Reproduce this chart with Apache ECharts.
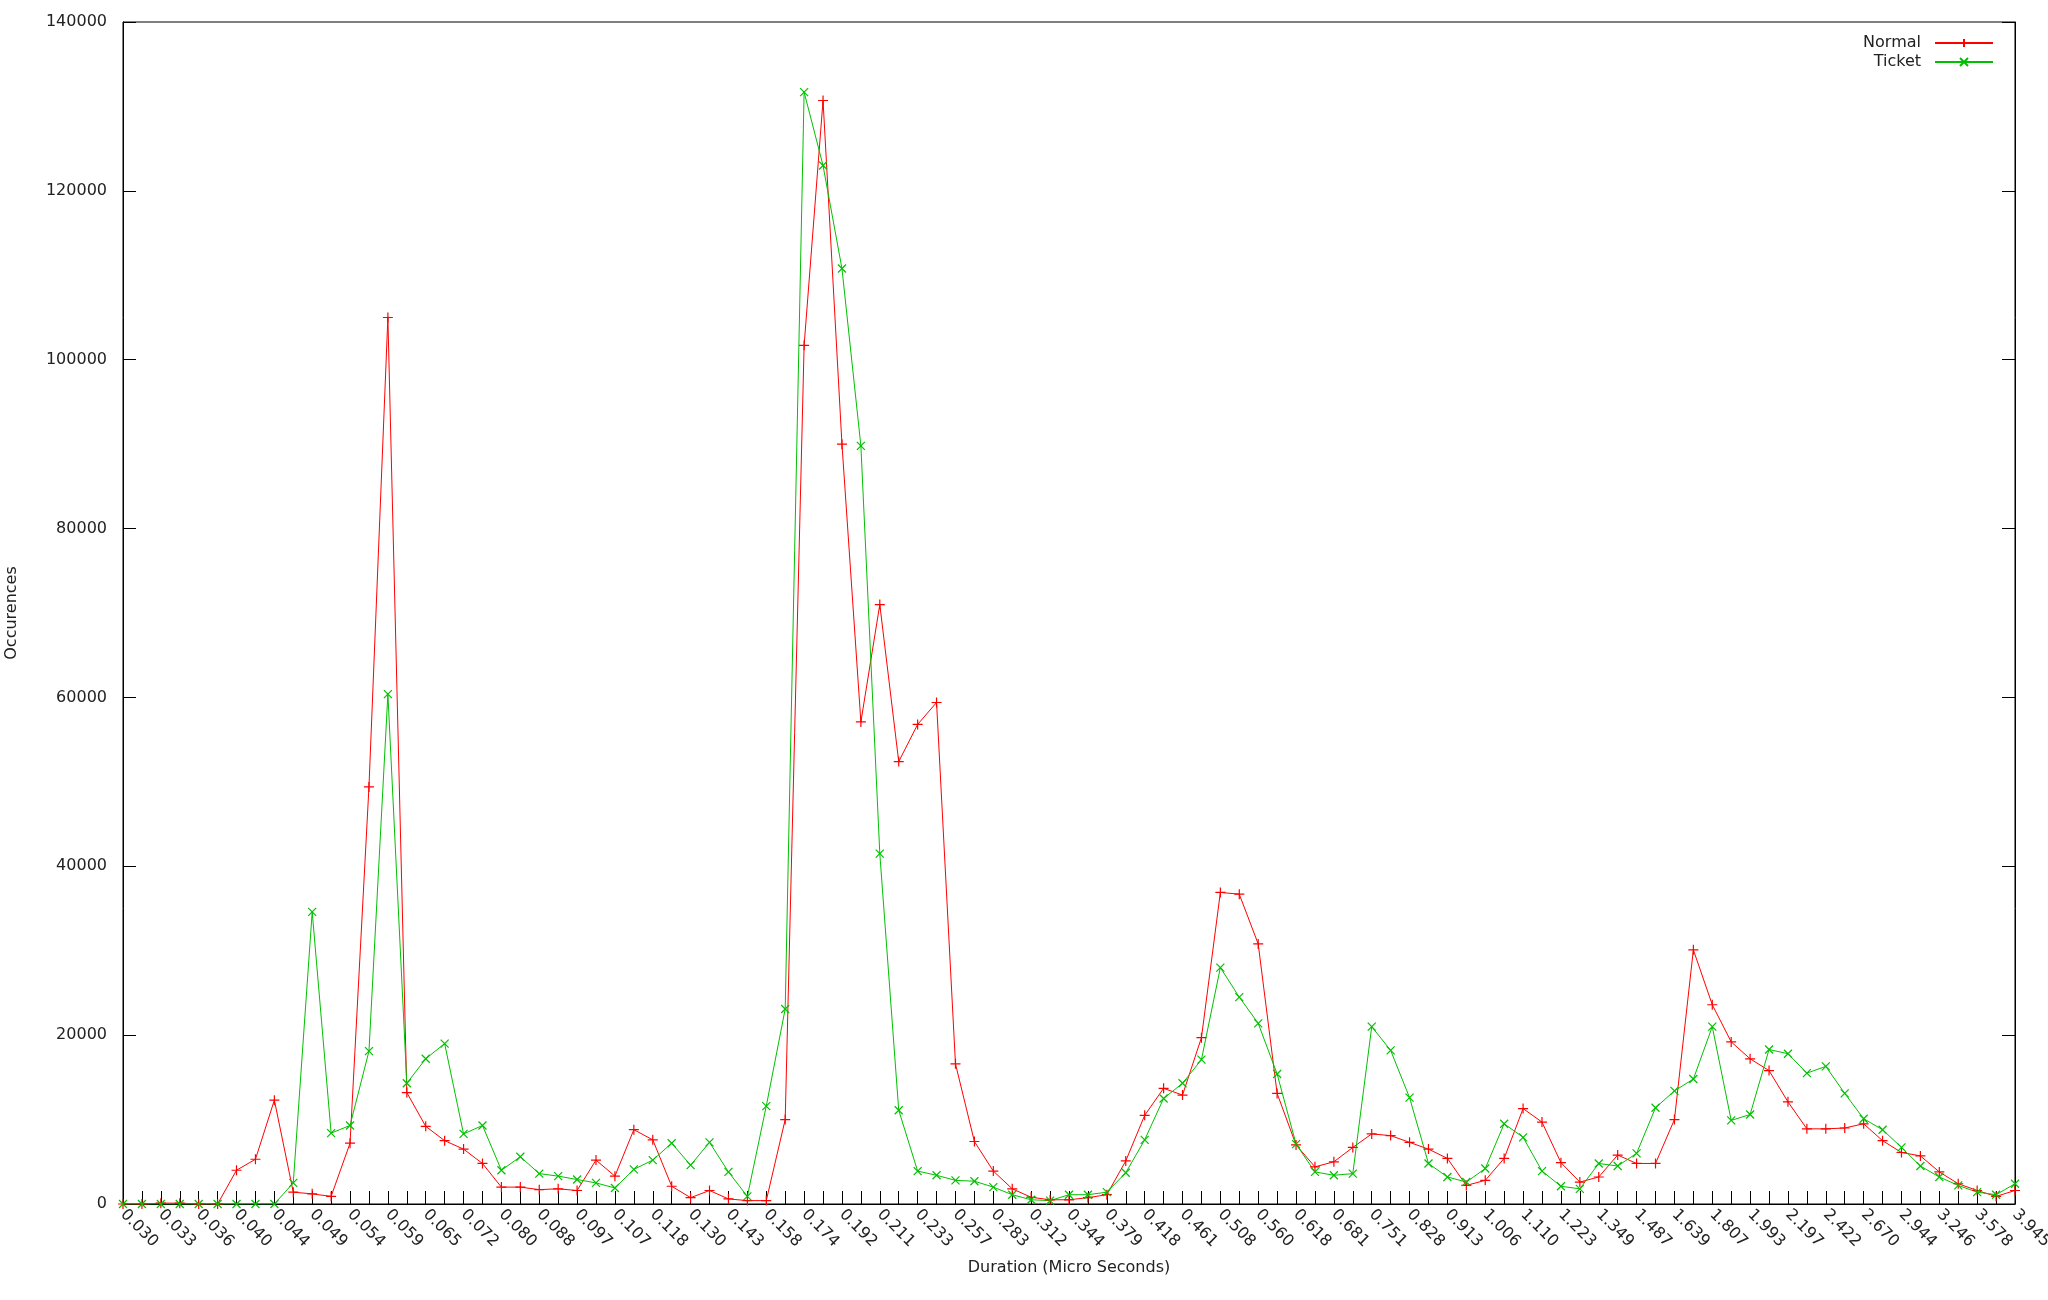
<!DOCTYPE html>
<html>
<head>
<meta charset="utf-8">
<script src="https://cdn.jsdelivr.net/npm/echarts@6/dist/echarts.min.js"></script>
<style>
html,body{margin:0;padding:0;background:#fff;}
#chart{width:2048px;height:1300px;}
</style>
</head>
<body>
<div id="chart"></div>
<script>
const categories = [
'0.030','0.032','0.033','0.035','0.036','0.038','0.040','0.042','0.044','0.047',
'0.049','0.051','0.054','0.057','0.059','0.062','0.065','0.069','0.072','0.076',
'0.080','0.084','0.088','0.092','0.097','0.102','0.107','0.112','0.118','0.123',
'0.130','0.136','0.143','0.150','0.158','0.165','0.174','0.182','0.192','0.201',
'0.211','0.222','0.233','0.244','0.257','0.270','0.283','0.297','0.312','0.328',
'0.344','0.361','0.379','0.398','0.418','0.439','0.461','0.484','0.508','0.534',
'0.560','0.588','0.618','0.649','0.681','0.715','0.751','0.789','0.828','0.869',
'0.913','0.958','1.006','1.057','1.110','1.165','1.223','1.284','1.349','1.416',
'1.487','1.561','1.639','1.721','1.807','1.898','1.993','2.092','2.197','2.307',
'2.422','2.543','2.670','2.804','2.944','3.091','3.246','3.408','3.578','3.757',
'3.945'
];

const normal = [
0,0,100,100,0,0,4000,5300,12300,1400,
1200,900,7200,49400,105000,13200,9200,7500,6500,4800,
2000,2000,1700,1800,1600,5200,3300,8800,7600,2100,
750,1600,600,400,400,10000,101700,130700,90000,57100,
71000,52400,56800,59400,16600,7400,3900,1800,800,500,
500,750,1100,5100,10500,13700,12900,19700,36900,36700,
30800,13100,7000,4400,5000,6700,8300,8100,7300,6500,
5400,2200,2800,5400,11300,9700,4900,2600,3200,5800,
4800,4800,10000,30100,23600,19200,17200,15800,12100,8900,
8900,9000,9500,7500,6100,5700,3800,2400,1600,900,
1600
];

const ticket = [
0,0,0,0,0,0,0,0,0,2500,
34600,8400,9300,18100,60400,14300,17200,19000,8300,9300,
4000,5600,3600,3300,2900,2500,1900,4100,5200,7200,
4600,7300,3800,900,11600,23100,131700,123000,110800,89800,
41500,11100,3900,3400,2800,2700,2000,1100,500,400,
1100,1100,1400,3700,7600,12500,14300,17100,28000,24500,
21400,15400,7100,3800,3400,3600,21000,18200,12600,4800,
3200,2600,4200,9500,7900,3900,2100,1800,4800,4500,
6000,11400,13400,14800,21000,9900,10600,18300,17800,15500,
16300,13100,10100,8800,6700,4500,3200,2200,1400,1100,
2400
];

const seriesNames = ['Normal', 'Ticket'];
const yTicks = [0, 20000, 40000, 60000, 80000, 100000, 120000, 140000];

const FONT = 'DejaVu Sans';
const TXT = '#222';
const PLUS = 'path://M5,0 L5,10 M0,5 L10,5';
const CROSS = 'path://M0,0 L10,10 M0,10 L10,0';

const chart = echarts.init(document.getElementById('chart'), null, {renderer: 'canvas'});
chart.setOption({
  animation: false,
  backgroundColor: '#fff',
  textStyle: {fontFamily: FONT},
  grid: {left: 123, right: 33, top: 22, bottom: 96, show: true, borderColor: '#000', borderWidth: 1,
         backgroundColor: 'transparent', containLabel: false, outerBoundsMode: 'none'},
  legend: {
    orient: 'vertical',
    right: 54,
    top: 34,
    align: 'right',
    itemWidth: 58,
    itemHeight: 10,
    itemGap: 1,
    padding: 0,
    textStyle: {fontFamily: FONT, fontSize: 16, lineHeight: 18, color: TXT, padding: [0, 9, 0, 0]},
    data: seriesNames
  },
  xAxis: {
    type: 'category',
    data: categories,
    boundaryGap: false,
    name: 'Duration (Micro Seconds)',
    nameLocation: 'middle',
    nameGap: 56,
    nameTextStyle: {fontFamily: FONT, fontSize: 16, color: TXT},
    axisLine: {show: true, lineStyle: {color: '#000', width: 1}},
    axisTick: {show: true, inside: true, length: 13, interval: 0, lineStyle: {color: '#000'}},
    axisLabel: {interval: 1, rotate: -45, margin: 8, fontFamily: FONT, fontSize: 16, color: TXT},
    splitLine: {show: false}
  },
  yAxis: [{
    type: 'value',
    min: yTicks[0],
    max: yTicks[yTicks.length - 1],
    interval: 20000,
    position: 'left',
    name: 'Occurences',
    nameLocation: 'middle',
    nameGap: 103,
    nameTextStyle: {fontFamily: FONT, fontSize: 16, color: TXT},
    axisLine: {show: true, lineStyle: {color: '#000', width: 1}},
    axisTick: {show: true, inside: true, length: 13, lineStyle: {color: '#000'}},
    axisLabel: {margin: 16, fontFamily: FONT, fontSize: 16, color: TXT, formatter: v => String(v)},
    splitLine: {show: false}
  }, {
    type: 'value',
    min: yTicks[0],
    max: yTicks[yTicks.length - 1],
    interval: 20000,
    position: 'right',
    axisLine: {show: true, lineStyle: {color: '#000', width: 1}},
    axisTick: {show: true, inside: true, length: 13, lineStyle: {color: '#000'}},
    axisLabel: {show: false},
    splitLine: {show: false}
  }],
  series: [{
    name: seriesNames[0],
    type: 'line',
    data: normal,
    yAxisIndex: 0,
    symbol: PLUS,
    symbolSize: 10,
    showAllSymbol: true,
    lineStyle: {color: '#ff0000', width: 1},
    itemStyle: {color: '#ff0000', borderColor: '#ff0000', borderWidth: 1.2}
  }, {
    name: seriesNames[1],
    type: 'line',
    data: ticket,
    yAxisIndex: 0,
    symbol: CROSS,
    symbolSize: 8,
    showAllSymbol: true,
    lineStyle: {color: '#00c000', width: 1},
    itemStyle: {color: '#00c000', borderColor: '#00c000', borderWidth: 1.2}
  }]
});
</script>
</body>
</html>
